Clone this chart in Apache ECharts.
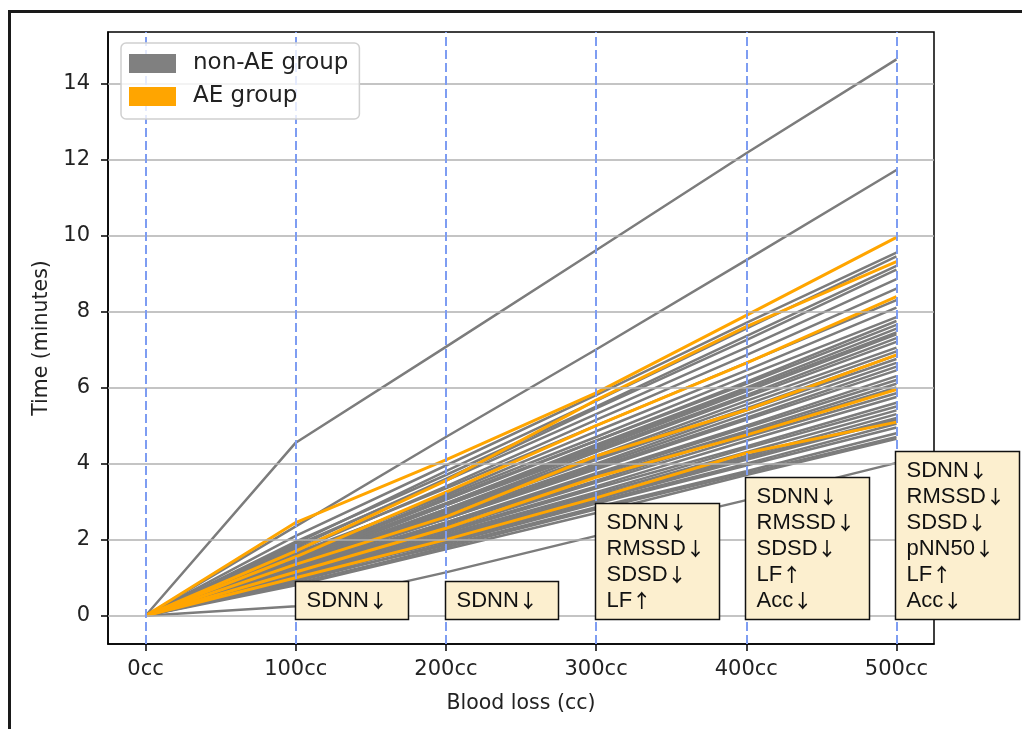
<!DOCTYPE html>
<html><head><meta charset="utf-8">
<script src="https://cdn.jsdelivr.net/npm/echarts@6/dist/echarts.min.js"></script>
<style>html,body{margin:0;padding:0;background:#fff}#c{width:1022px;height:729px}</style>
</head><body><div id="c"></div>
<script>
const bloodLoss = [0, 100, 200, 300, 400, 500];
const xTickLabels = ['0cc', '100cc', '200cc', '300cc', '400cc', '500cc'];
const yTicks = [0, 2, 4, 6, 8, 10, 12, 14];

const nonAEGroup = [
  [0, 4.55, 7.07, 9.61, 12.16, 14.63],
  [0, 2.35, 4.7, 7.0, 9.35, 11.72],
  [0, 2.1, 3.95, 5.8, 7.7, 9.55],
  [0, 1.9, 3.8, 5.65, 7.55, 9.45],
  [0, 1.95, 3.7, 5.5, 7.35, 9.2],
  [0, 1.8, 3.6, 5.45, 7.25, 9.1],
  [0, 1.85, 3.55, 5.3, 7.05, 8.85],
  [0, 1.7, 3.4, 5.15, 6.85, 8.6],
  [0, 1.75, 3.35, 5.0, 6.65, 8.3],
  [0, 1.6, 3.2, 4.85, 6.45, 8.1],
  [0, 1.65, 3.15, 4.7, 6.3, 7.85],
  [0, 1.5, 3.05, 4.6, 6.15, 7.75],
  [0, 1.55, 3.1, 4.6, 6.1, 7.65],
  [0, 1.45, 2.95, 4.5, 6.0, 7.55],
  [0, 1.5, 2.95, 4.45, 5.95, 7.45],
  [0, 1.4, 2.9, 4.4, 5.9, 7.4],
  [0, 1.45, 2.9, 4.35, 5.8, 7.3],
  [0, 1.35, 2.8, 4.3, 5.75, 7.2],
  [0, 1.4, 2.8, 4.2, 5.65, 7.05],
  [0, 1.35, 2.75, 4.15, 5.55, 6.95],
  [0, 1.3, 2.7, 4.1, 5.45, 6.85],
  [0, 1.35, 2.65, 4.0, 5.4, 6.75],
  [0, 1.3, 2.6, 3.95, 5.3, 6.65],
  [0, 1.25, 2.55, 3.9, 5.2, 6.55],
  [0, 1.3, 2.55, 3.85, 5.15, 6.45],
  [0, 1.2, 2.45, 3.75, 5.0, 6.3],
  [0, 1.25, 2.45, 3.7, 4.95, 6.2],
  [0, 1.15, 2.4, 3.65, 4.85, 6.1],
  [0, 1.2, 2.35, 3.55, 4.8, 6.0],
  [0, 1.1, 2.3, 3.5, 4.7, 5.85],
  [0, 1.15, 2.25, 3.4, 4.6, 5.75],
  [0, 1.1, 2.2, 3.35, 4.45, 5.6],
  [0, 1.05, 2.15, 3.25, 4.4, 5.5],
  [0, 1.1, 2.1, 3.2, 4.3, 5.4],
  [0, 1.0, 2.05, 3.15, 4.2, 5.3],
  [0, 1.05, 2.05, 3.1, 4.15, 5.2],
  [0, 0.95, 2.0, 3.05, 4.1, 5.15],
  [0, 1.0, 1.95, 3.0, 4.0, 5.05],
  [0, 0.9, 1.9, 2.95, 3.95, 4.95],
  [0, 0.95, 1.85, 2.85, 3.8, 4.8],
  [0, 0.85, 1.8, 2.8, 3.75, 4.7],
  [0, 0.8, 1.75, 2.7, 3.7, 4.65],
  [0, 0.25, 1.14, 2.1, 3.04, 4.02]
];

const aeGroup = [
  [0, 2.45, 4.1, 5.86, 7.9, 9.95],
  [0, 1.7, 3.55, 5.67, 7.6, 9.31],
  [0, 1.55, 3.25, 5.0, 6.64, 8.39],
  [0, 1.35, 2.6, 4.2, 5.41, 6.86],
  [0, 1.15, 2.3, 3.64, 4.75, 5.95],
  [0, 1.0, 2.0, 3.1, 4.28, 5.09]
];

const annotX = [100, 200, 300, 400, 500];
const annotText = [
  ['SDNN↓'],
  ['SDNN↓'],
  ['SDNN↓', 'RMSSD↓', 'SDSD↓', 'LF↑'],
  ['SDNN↓', 'RMSSD↓', 'SDSD↓', 'LF↑', 'Acc↓'],
  ['SDNN↓', 'RMSSD↓', 'SDSD↓', 'pNN50↓', 'LF↑', 'Acc↓']
];

const chart = echarts.init(document.getElementById('c'), null, {renderer: 'canvas'});

const series = [];
series.push({
  type: 'line', name: 'hgrid', data: [], z: 1, silent: true,
  markLine: {silent: true, animation: false, symbol: ['none', 'none'], label: {show: false},
    emphasis: {disabled: true},
    lineStyle: {color: '#b0b0b0', width: 1.5, type: 'solid'},
    data: yTicks.map(v => ({yAxis: v}))}
});
nonAEGroup.forEach(vals => series.push({
  type: 'line', name: 'non-AE group', data: bloodLoss.map((x, i) => [x, vals[i]]),
  showSymbol: false, symbol: 'none', silent: true, z: 2,
  emphasis: {disabled: true},
  lineStyle: {color: '#7c7c7c', width: 2.5}, itemStyle: {color: '#808080'}
}));
aeGroup.forEach(vals => series.push({
  type: 'line', name: 'AE group', data: bloodLoss.map((x, i) => [x, vals[i]]),
  showSymbol: false, symbol: 'none', silent: true, z: 3,
  emphasis: {disabled: true},
  lineStyle: {color: '#ffa500', width: 3}, itemStyle: {color: '#ffa500'}
}));
series.push({
  type: 'line', name: 'vgrid', data: [], z: 5, silent: true,
  markLine: {silent: true, animation: false, symbol: ['none', 'none'], label: {show: false},
    emphasis: {disabled: true},
    lineStyle: {color: '#7e9df2', width: 2, type: [9, 4]},
    data: bloodLoss.map(x => ({xAxis: x}))}
});

chart.setOption({
  animation: false,
  backgroundColor: '#ffffff',
  textStyle: {fontFamily: 'DejaVu Sans'},
  grid: {left: 108, top: 32, width: 826, height: 612, show: true, borderColor: '#000', borderWidth: 1.5, backgroundColor: 'transparent'},
  legend: {
    left: 121, top: 43, orient: 'vertical',
    itemWidth: 47, itemHeight: 19, itemGap: 10,
    padding: [9, 11, 11, 8],
    backgroundColor: 'rgba(255,255,255,0.8)', borderColor: '#d0d0d0', borderWidth: 1.5, borderRadius: 5,
    itemStyle: {borderWidth: 0},
    textStyle: {fontFamily: 'DejaVu Sans', fontSize: 23, lineHeight: 19, color: '#222', padding: [0, 0, 0, 12]},
    selectedMode: false, z: 10,
    data: [{name: 'non-AE group', icon: 'rect'}, {name: 'AE group', icon: 'rect'}]
  },
  xAxis: {
    type: 'value', min: -25, max: 525,
    splitLine: {show: false},
    axisLine: {show: true, onZero: false, lineStyle: {color: '#000', width: 1.5}},
    axisTick: {show: true, customValues: bloodLoss, length: 7, lineStyle: {color: '#000', width: 1.5}},
    axisLabel: {customValues: bloodLoss, formatter: v => xTickLabels[bloodLoss.indexOf(v)], margin: 15,
      fontSize: 21, color: '#222', fontFamily: 'DejaVu Sans'},
    name: 'Blood loss (cc)', nameLocation: 'middle', nameGap: 49,
    nameTextStyle: {fontSize: 20.5, color: '#222', fontFamily: 'DejaVu Sans'}
  },
  yAxis: {
    type: 'value', min: -0.744, max: 15.35,
    splitLine: {show: false},
    axisLine: {show: true, onZero: false, lineStyle: {color: '#000', width: 1.5}},
    axisTick: {show: true, customValues: yTicks, length: 7, lineStyle: {color: '#000', width: 1.5}},
    axisLabel: {customValues: yTicks, margin: 18, fontSize: 21, color: '#222', fontFamily: 'DejaVu Sans'},
    name: 'Time (minutes)', nameLocation: 'middle', nameGap: 56,
    nameTextStyle: {fontSize: 20.5, color: '#222', fontFamily: 'DejaVu Sans'}
  },
  series: series
});

const gfx = [];
gfx.push({type: 'rect', z: 200, silent: true, shape: {x: 9.5, y: 11.5, width: 1040, height: 760},
  style: {fill: 'none', stroke: '#1a1a1a', lineWidth: 3}});
const richStyles = {
  t: {font: '22px "Liberation Sans"', fill: '#111', lineHeight: 26},
  a: {font: '500 19px "Noto Sans CJK SC"', fill: '#111', lineHeight: 26}
};
annotX.forEach((x, i) => {
  const p = chart.convertToPixel({gridIndex: 0}, [x, 0]);
  const lines = annotText[i];
  const h = 12 + 26 * lines.length;
  const w = lines.length === 1 ? 113 : 124;
  const left = Math.round(p[0]) - 0.5;
  const top = Math.round(p[1] + 3 - h) + 0.5;
  const txt = lines.map(s => {
    const arrow = s.slice(-1);
    return '{t|' + s.slice(0, -1) + '}{a|' + arrow + '}';
  }).join('\n');
  gfx.push({type: 'rect', z: 100, silent: true, shape: {x: left, y: top, width: w, height: h},
    style: {fill: '#fcefcf', stroke: '#111', lineWidth: 1.5}});
  gfx.push({type: 'text', z: 101, silent: true, x: left + 11, y: top + 6,
    style: {text: txt, rich: richStyles, font: '22px "Liberation Sans"', fill: '#111', lineHeight: 26, verticalAlign: 'top', align: 'left'}});
});
chart.setOption({graphic: gfx});
</script></body></html>
